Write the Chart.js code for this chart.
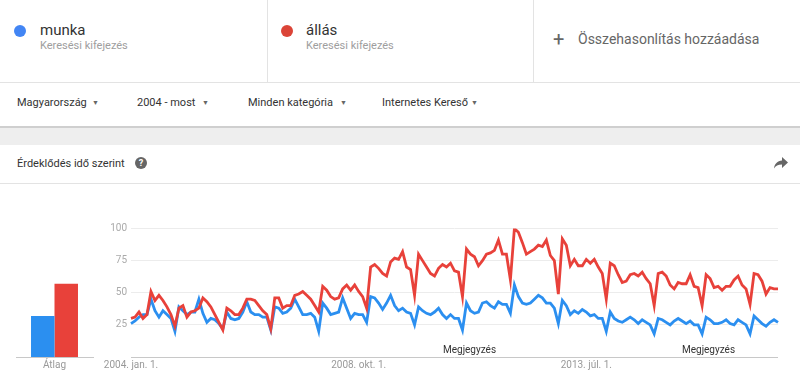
<!DOCTYPE html>
<html><head><meta charset="utf-8">
<script src="https://cdn.jsdelivr.net/npm/chart.js@4/dist/chart.umd.min.js"></script>
<style>
html,body{margin:0;padding:0;width:800px;height:379px;overflow:hidden;background:#fff;font-family:Roboto,"Noto Sans",sans-serif;}
.abs{position:absolute;white-space:nowrap;}
.term{font-size:15px;color:#333;}
.sub{font-size:11px;color:#9e9e9e;}
.dot{position:absolute;width:12px;height:12px;border-radius:50%;}
.flt{font-size:11px;color:#333;}
.tri{font-size:7px;color:#666;}
.note{font-size:10px;color:#333;}
</style></head>
<body>
<!-- top term cards -->
<div class="abs" style="left:0;top:0;width:800px;height:82px;border-bottom:1px solid #e3e3e3;"></div>
<div class="abs" style="left:267px;top:0;width:1px;height:82px;background:#e3e3e3;"></div>
<div class="abs" style="left:533px;top:0;width:1px;height:82px;background:#e3e3e3;"></div>
<div class="dot" style="left:14px;top:25px;background:#4285f4;"></div>
<div class="abs term" style="left:40px;top:21px;">munka</div>
<div class="abs sub" style="left:40px;top:39px;">Keresési kifejezés</div>
<div class="dot" style="left:281px;top:25px;background:#db4437;"></div>
<div class="abs term" style="left:306px;top:21px;">állás</div>
<div class="abs sub" style="left:306px;top:39px;">Keresési kifejezés</div>
<div class="abs" style="left:553px;top:29px;font-size:20px;color:#666;line-height:20px;">+</div>
<div class="abs" style="left:578px;top:31px;font-size:14px;color:#666;">Összehasonlítás hozzáadása</div>
<!-- filters -->
<div class="abs flt" style="left:17px;top:96px;">Magyarország</div>
<div class="abs tri" style="left:92px;top:99px;">▼</div>
<div class="abs flt" style="left:137px;top:96px;">2004 - most</div>
<div class="abs tri" style="left:202px;top:99px;">▼</div>
<div class="abs flt" style="left:248px;top:96px;">Minden kategória</div>
<div class="abs tri" style="left:340px;top:99px;">▼</div>
<div class="abs flt" style="left:382px;top:96px;">Internetes Kereső</div>
<div class="abs tri" style="left:471px;top:99px;">▼</div>
<!-- gray band -->
<div class="abs" style="left:0;top:126px;width:800px;height:2px;background:#cfcfcf;"></div>
<div class="abs" style="left:0;top:128px;width:800px;height:17px;background:#eeeeee;"></div>
<!-- card header -->
<div class="abs" style="left:17px;top:157px;font-size:11px;color:#333;">Érdeklődés idő szerint</div>
<div class="abs" style="left:135px;top:157px;width:12px;height:12px;border-radius:50%;background:#666;color:#fff;font-size:9px;font-weight:bold;text-align:center;line-height:12px;">?</div>
<svg class="abs" style="left:774px;top:157px;" width="14" height="12" viewBox="0 0 14 12"><path d="M8 0 L14 5.5 L8 11 L8 7.5 C4 7.5 1.5 8.8 0 11.5 C0.6 6.8 3.3 4 8 3.5 Z" fill="#666"/></svg>
<div class="abs" style="left:0;top:183px;width:800px;height:1px;background:#e3e3e3;"></div>
<!-- charts -->
<canvas id="avg" class="abs" style="left:0;top:200px;" width="100" height="179"></canvas>
<canvas id="line" class="abs" style="left:100px;top:200px;" width="700" height="179"></canvas>
<div class="abs note" style="left:443px;top:344px;">Megjegyzés</div>
<div class="abs note" style="left:682px;top:344px;">Megjegyzés</div>
<script>
const seriesNames = ['munka', 'állás'];
const startYear = 2004;
const munka = [
26,28,31,33,33,45,36,31,36,33,
30,20,39,36,33,35,35,45,34,27,
30,29,26,22,35,30,29,30,35,43,
35,33,33,31,31,21,39,38,34,35,
38,45,39,33,33,34,31,20,42,38,
33,34,35,46,38,30,34,33,33,27,
47,46,42,37,42,48,40,36,38,35,
34,25,39,36,34,33,35,38,33,30,
33,30,30,21,42,36,34,35,42,43,
40,38,43,41,41,34,56,47,42,41,
42,45,48,46,42,42,38,26,44,40,
33,36,34,37,35,32,33,30,30,20,
35,30,28,27,29,31,29,26,29,27,
25,18,30,29,27,25,28,30,28,26,
28,25,25,18,31,29,26,26,27,29,
26,25,29,27,25,18,32,29,26,24,
27,29,27];
const allas = [
30,31,35,30,33,51,44,48,44,39,
33,24,38,40,31,35,36,38,46,43,
39,33,27,21,38,36,33,33,38,45,
45,44,40,36,33,22,46,46,38,40,
40,48,49,51,48,45,40,35,55,52,
47,45,46,53,56,52,56,51,47,38,
70,72,69,65,63,74,77,76,82,70,
68,48,80,75,70,65,63,69,72,70,
73,67,66,47,84,80,78,71,75,80,
81,83,91,80,80,60,100,97,89,80,
82,84,87,86,91,79,75,49,92,87,
71,76,71,71,76,73,76,70,65,45,
73,71,64,58,59,64,65,63,66,61,
57,40,65,66,63,56,53,58,57,57,
64,55,54,40,64,61,54,55,52,55,
55,60,63,56,53,41,65,64,59,49,
54,53,53];
const averages = [32, 57];
const avgLabel = ['Átlag'];
const tickIndices = [0, 57, 114];
const tickLabels = ['2004. jan. 1.', '2008. okt. 1.', '2013. júl. 1.'];
const yTicks = [25, 50, 75, 100];

const months = munka.map((_, i) => (startYear + Math.floor(i / 12)) + '-' + String(i % 12 + 1).padStart(2, '0'));
const BLUE = '#2b8ff0', RED = '#e8413a';
const FONT = 'Roboto, "Noto Sans", sans-serif';

new Chart(document.getElementById('line'), {
  type: 'line',
  data: {
    labels: months,
    datasets: [
      {label: seriesNames[1], data: allas, borderColor: RED, borderWidth: 2.8, pointRadius: 0, tension: 0, order: 0},
      {label: seriesNames[0], data: munka, borderColor: BLUE, borderWidth: 2.8, pointRadius: 0, tension: 0, order: 1}
    ]
  },
  options: {
    responsive: false, animation: false, events: [],
    layout: {padding: {left: 0, right: 22, top: 28.5, bottom: 0}},
    plugins: {legend: {display: false}, tooltip: {enabled: false}},
    scales: {
      x: {
        type: 'category', offset: false,
        grid: {display: false, drawTicks: false, tickLength: 0}, border: {display: false},
        ticks: {
          autoSkip: false, maxRotation: 0, minRotation: 0, padding: 2,
          color: '#999', font: {family: FONT, size: 10},
          callback: (v, i) => { const k = tickIndices.indexOf(i); return k >= 0 ? tickLabels[k] : ''; }
        },
        afterFit: s => { s.height = 22; }
      },
      y: {
        min: 0, max: 100,
        afterBuildTicks: s => { s.ticks = [0].concat(yTicks).map(v => ({value: v})); },
        grid: {drawTicks: false, color: c => c.tick && c.tick.value === 0 ? '#c8c8c8' : '#ececec', lineWidth: 1},
        border: {display: false},
        ticks: {padding: 4, color: '#aaa', font: {family: FONT, size: 10}, callback: v => v === 0 ? '' : v},
        afterFit: s => { s.width = 31; }
      }
    }
  }
});

new Chart(document.getElementById('avg'), {
  type: 'bar',
  data: {
    labels: avgLabel,
    datasets: [
      {label: seriesNames[0], data: [averages[0]], backgroundColor: BLUE},
      {label: seriesNames[1], data: [averages[1]], backgroundColor: RED}
    ]
  },
  options: {
    responsive: false, animation: false, events: [],
    layout: {padding: {left: 16, right: 7, top: 28.5, bottom: 0}},
    plugins: {legend: {display: false}, tooltip: {enabled: false}},
    datasets: {bar: {categoryPercentage: 0.61, barPercentage: 1}},
    scales: {
      x: {
        grid: {display: false, drawTicks: false, tickLength: 0}, border: {display: true, color: '#c8c8c8'},
        ticks: {padding: 2, color: '#999', font: {family: FONT, size: 10}},
        afterFit: s => { s.height = 22; }
      },
      y: {display: false, min: 0, max: 100}
    }
  }
});
</script>
</body></html>
